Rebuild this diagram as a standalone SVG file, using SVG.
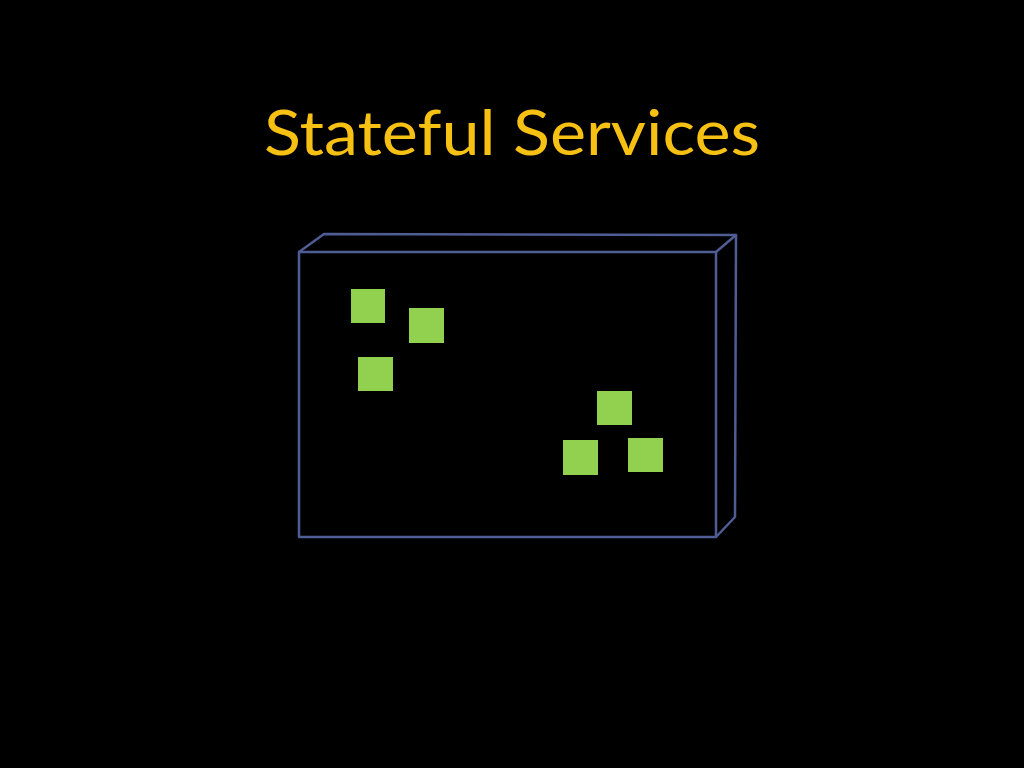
<svg xmlns="http://www.w3.org/2000/svg" width="1024" height="768" viewBox="0 0 1024 768">
<style>
.title{font-family:"Lato","Liberation Sans",sans-serif;font-size:62px;fill:#f7c114;font-weight:400}
.box{fill:none;stroke:#505c94;stroke-width:2.5;stroke-linejoin:round}
.sq{fill:#92d050}
</style>
<rect width="1024" height="768" fill="#000"/>
<text class="title" x="512" y="155" text-anchor="middle" textLength="496" lengthAdjust="spacingAndGlyphs">Stateful Services</text>
<g id="container">
<rect class="box" x="299" y="252" width="417" height="285"/>
<polyline class="box" points="299,252 324,234 736,235 716,252"/>
<polyline class="box" points="736,235 735,517 716,537"/>
</g>
<g id="sq1"><rect class="sq" x="351" y="289" width="34" height="34"/></g>
<g id="sq2"><rect class="sq" x="409" y="308" width="35" height="35"/></g>
<g id="sq3"><rect class="sq" x="358" y="357" width="35" height="34"/></g>
<g id="sq4"><rect class="sq" x="597" y="391" width="35" height="34"/></g>
<g id="sq5"><rect class="sq" x="563" y="440" width="35" height="35"/></g>
<g id="sq6"><rect class="sq" x="628" y="438" width="35" height="34"/></g>
<g id="connectors"/>
</svg>
